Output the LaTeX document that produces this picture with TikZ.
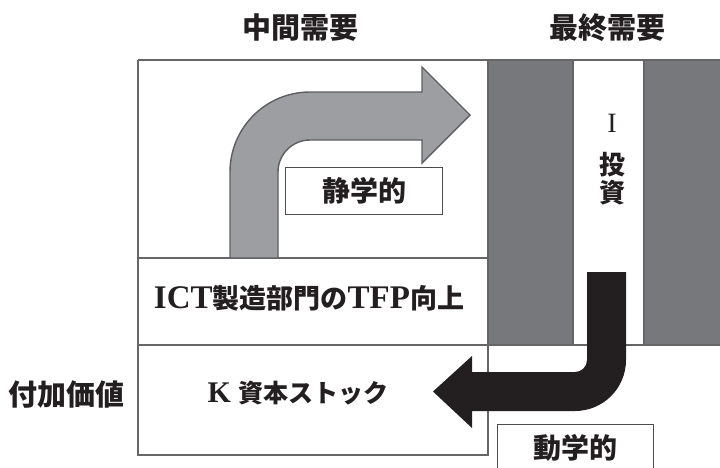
\documentclass[tikz,border=0pt]{standalone}
\usepackage{fontspec}
\setmainfont{Liberation Serif}
\newfontfamily\jp{Noto Sans CJK JP}
\definecolor{linegray}{HTML}{666666}
\definecolor{colgray}{HTML}{77787B}
\definecolor{arrowgray}{HTML}{9D9EA2}
\definecolor{arrowedge}{HTML}{5E5E60}
\definecolor{ink}{HTML}{231F20}
\begin{document}
\begin{tikzpicture}[x=1pt,y=-1pt,
  frame/.style={draw=linegray, line width=2.4pt},
  labelbox/.style={draw=ink!80, line width=1pt, fill=white},
  jptext/.style={font=\jp\bfseries\fontsize{28}{30}\selectfont, text=ink, inner sep=0pt},
  mixtext/.style={font=\bfseries\fontsize{33}{34}\selectfont, text=ink, inner sep=0pt}
]
\useasboundingbox (0,0) rectangle (720,467);
% dark columns of final demand
\fill[colgray] (488,60) rectangle (573,345);
\fill[colgray] (644,60) rectangle (722,345);
\draw[linegray, line width=2pt] (573,60) -- (573,345);
\draw[linegray, line width=2pt] (644,60) -- (644,345);
% frame
\draw[frame] (138,60) -- (722,60);
\draw[frame] (138,60) -- (138,455) -- (488,455) -- (488,60);
\draw[frame] (138,258) -- (488,258);
\draw[frame] (138,345) -- (722,345);
% static arrow (gray)
\draw[fill=arrowgray, draw=arrowedge, line width=1.4pt]
  (230,258) -- (230,172) arc[start angle=180, end angle=90, radius=80pt]
  -- (422,92) -- (422,67) -- (470,115) -- (422,163) -- (422,140)
  -- (310,140) arc[start angle=90, end angle=180, radius=32pt]
  -- (278,258) -- cycle;
% dynamic arrow (black)
\fill[ink]
  (587,272) -- (626,272) -- (626,360) arc[start angle=0, end angle=-90, radius=51pt]
  -- (472,411) -- (472,428) -- (433,391.5) -- (472,356) -- (472,372)
  -- (575,372) arc[start angle=-90, end angle=0, radius=12pt]
  -- cycle;
% boxes with labels
\node[labelbox, minimum width=157pt, minimum height=47pt, anchor=north west] (stbox) at (285,167) {};
\node[jptext] (static) at (stbox.center) {静学的};
\node[labelbox, minimum width=156pt, minimum height=52pt, anchor=north west] (dybox) at (497,424) {};
\node[jptext] (dynamic) at (575,448) {動学的};
% headings
\node[jptext, font=\jp\bfseries\fontsize{29}{30}\selectfont] (inter) at (300,28) {中間需要};
\node[jptext, font=\jp\bfseries\fontsize{29}{30}\selectfont] (final) at (607,28) {最終需要};
\node[jptext, font=\jp\bfseries\fontsize{29}{30}\selectfont] (va) at (67,395) {付加価値};
% cell texts
\node[mixtext] (ict) at (309,298) {ICT{\jp\fontsize{27}{30}\selectfont 製造部門の}TFP{\jp\fontsize{27}{30}\selectfont 向上}};
\node[mixtext, font=\bfseries\fontsize{30}{30}\selectfont] (cap) at (298,393) {K {\jp\fontsize{25}{28}\selectfont 資本ストック}};
\node[text=ink, inner sep=0pt, font=\fontsize{28}{30}\selectfont] (inv) at (612,123) {I};
\node[jptext, font=\jp\bfseries\fontsize{26}{28}\selectfont] (inv1) at (612,165) {投};
\node[jptext, font=\jp\bfseries\fontsize{26}{28}\selectfont] (inv2) at (612,193) {資};
\end{tikzpicture}
\end{document}
